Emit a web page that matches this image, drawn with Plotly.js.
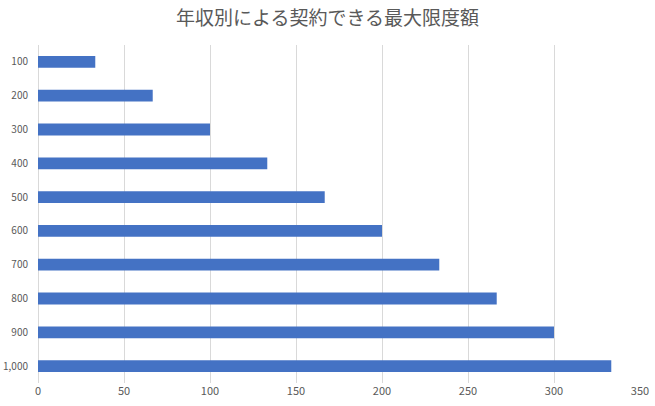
<!DOCTYPE html>
<html>
<head>
<meta charset="utf-8">
<script src="https://cdn.plot.ly/plotly-3.0.1.min.js"></script>
<style>
  html, body { margin: 0; padding: 0; background: #fff; }
  #chart { width: 655px; height: 406px; }
</style>
</head>
<body>
<div id="chart"></div>
<script>
const incomes = ["100", "200", "300", "400", "500", "600", "700", "800", "900", "1,000"];
const maxAmount = [33.3, 66.7, 100, 133.3, 166.7, 200, 233.3, 266.7, 300, 333.3];
const xTicks = [0, 50, 100, 150, 200, 250, 300, 350];

const font = "Meiryo, 'Noto Sans CJK JP', 'Noto Sans', sans-serif";

const data = [
  {
    type: "bar",
    orientation: "h",
    y: incomes,
    x: maxAmount,
    width: 0.35,
    marker: { color: "#4472C4" },
    hoverinfo: "none",
  },
];

const layout = {
  width: 655,
  height: 406,
  margin: { l: 38, r: 15, t: 45, b: 23 },
  paper_bgcolor: "#fff",
  plot_bgcolor: "#fff",
  showlegend: false,
  font: { family: font, size: 11, color: "#595959" },
  title: {
    text: "年収別による契約できる最大限度額",
    font: { family: font, size: 19, color: "#595959" },
    x: 0.5,
    xanchor: "center",
    y: 0.955,
    yanchor: "middle",
  },
  xaxis: {
    range: [0, 350],
    tickvals: xTicks,
    showgrid: true,
    gridcolor: "#d9d9d9",
    gridwidth: 1,
    zeroline: true,
    zerolinecolor: "#d9d9d9",
    showline: false,
    ticks: "",
    fixedrange: true,
  },
  yaxis: {
    type: "category",
    autorange: "reversed",
    showgrid: false,
    showline: false,
    zeroline: false,
    ticks: "",
    tickfont: { size: 10 },
    ticklabelstandoff: 9,
    fixedrange: true,
  },
};

Plotly.newPlot("chart", data, layout, { staticPlot: true });
</script>
</body>
</html>
